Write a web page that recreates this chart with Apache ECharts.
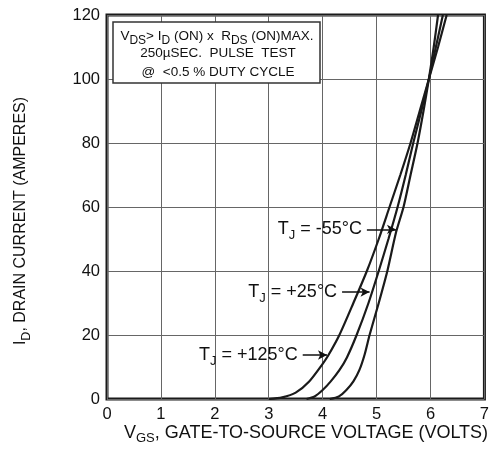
<!DOCTYPE html>
<html>
<head>
<meta charset="utf-8">
<script src="https://cdn.jsdelivr.net/npm/echarts@6/dist/echarts.min.js"></script>
<style>html,body{margin:0;padding:0;background:#fff}#c{width:492px;height:449px}</style>
</head>
<body>
<div id="c"></div>
<script>
// Data (V_GS volts, I_D amperes)
const curve125 = [[3.0,0],[3.25,0.5],[3.5,2],[3.75,5.5],[4.0,11],[4.1,13.5],[4.31,20],[4.57,30],[4.82,40],[5.04,50],[5.24,60],[5.44,70],[5.63,80],[5.8,90],[5.97,100],[6.14,110],[6.30,120]];
const curve25 = [[3.7,0],[3.85,0.8],[4.0,2.8],[4.15,5.5],[4.31,9],[4.45,13],[4.63,20],[4.85,30],[5.04,40],[5.22,50],[5.39,60],[5.54,70],[5.68,80],[5.83,90],[5.97,100],[6.1,110],[6.23,120]];
const curveN55 = [[4.13,0],[4.3,0.8],[4.44,2.8],[4.57,5.5],[4.68,9],[4.78,14],[4.87,20],[5.04,30],[5.2,40],[5.36,52],[5.5,60],[5.63,70],[5.76,80],[5.87,90],[5.97,100],[6.06,110],[6.14,120]];
// Arrow annotations: [startV, endV, I]
const arrowN55 = [4.82, 5.36, 53];
const arrow25 = [4.36, 4.87, 33.4];
const arrow125 = [3.63, 4.08, 13.75];
const labelN55 = '-55°C', label25 = '+25°C', label125 = '+125°C';
const xTicks = {min:0, max:7, interval:1};
const yTicks = {min:0, max:120, interval:20};

const FONT = 'Liberation Sans, Arial, Helvetica, sans-serif';
const chart = echarts.init(document.getElementById('c'), null, {renderer:'canvas'});

function arrowMark(a, txt){
  return {
    silent:true, animation:false,
    symbol:['none','arrow'], symbolSize:[7,9],
    lineStyle:{color:'#111', width:1.5, type:'solid'},
    label:{show:true, position:'start', distance:5,
      formatter:'{m|T}{s|J}{m| = '+txt+'}',
      rich:{
        m:{fontFamily:FONT, fontSize:18, color:'#111', lineHeight:26, verticalAlign:'middle'},
        s:{fontFamily:FONT, fontSize:13, color:'#111', lineHeight:13, verticalAlign:'bottom'}
      }},
    emphasis:{disabled:true},
    data:[[{coord:[a[0],a[2]]},{coord:[a[1],a[2]]}]]
  };
}
function curve(name, data, arr, txt){
  return {name, type:'line', data, showSymbol:false, smooth:0.25,
    lineStyle:{color:'#1a1a1a', width:2.2}, silent:true, animation:false,
    markLine: arrowMark(arr, txt)};
}

chart.setOption({
  animation:false,
  grid:{left:107, right:2, top:15, bottom:50, show:true, borderColor:'#1a1a1a', borderWidth:3, backgroundColor:'transparent'},
  xAxis:{type:'value', min:xTicks.min, max:xTicks.max, interval:xTicks.interval,
    axisLine:{show:false}, axisTick:{show:false},
    axisLabel:{fontFamily:FONT, fontSize:16.5, color:'#111', margin:7},
    splitLine:{show:true, lineStyle:{color:'#666', width:1}}},
  yAxis:{type:'value', min:yTicks.min, max:yTicks.max, interval:yTicks.interval,
    axisLine:{show:false}, axisTick:{show:false},
    axisLabel:{fontFamily:FONT, fontSize:16.5, color:'#111', margin:7},
    splitLine:{show:true, lineStyle:{color:'#666', width:1}}},
  series:[
    curve('-55', curveN55, arrowN55, labelN55),
    curve('+25', curve25, arrow25, label25),
    curve('+125', curve125, arrow125, label125)
  ],
  graphic:[
    {type:'rect', z:100, shape:{x:113, y:22, width:207, height:61},
      style:{fill:'#fff', stroke:'#333', lineWidth:1.5}},
    {type:'text', z:101, x:217, y:36, style:{
      text:'{m|V}{s|DS}{m|> I}{s|D}{m| (ON) x  R}{s|DS}{m| (ON)MAX.}',
      align:'center', verticalAlign:'middle',
      rich:{m:{fontFamily:FONT, fontSize:13.5, fill:'#111', lineHeight:22, verticalAlign:'middle'},
            s:{fontFamily:FONT, fontSize:12, fill:'#111', lineHeight:9, verticalAlign:'bottom'}}}},
    {type:'text', z:101, x:218, y:53, style:{text:'250µSEC.  PULSE  TEST', align:'center', verticalAlign:'middle',
      font:'13.5px '+FONT, fill:'#111'}},
    {type:'text', z:101, x:218, y:72, style:{text:'@  <0.5 % DUTY CYCLE', align:'center', verticalAlign:'middle',
      font:'13.5px '+FONT, fill:'#111'}},
    {type:'text', z:101, x:306, y:433, style:{
      text:'{m|V}{s|GS}{m|, GATE-TO-SOURCE VOLTAGE (VOLTS)}',
      align:'center', verticalAlign:'middle',
      rich:{m:{fontFamily:FONT, fontSize:18, fill:'#111', lineHeight:24, verticalAlign:'middle'},
            s:{fontFamily:FONT, fontSize:13, fill:'#111', lineHeight:12, verticalAlign:'bottom'}}}},
    {type:'text', z:101, x:21, y:221, rotation:Math.PI/2, style:{
      text:'{m|I}{s|D}{m|, DRAIN CURRENT (AMPERES)}',
      align:'center', verticalAlign:'middle',
      rich:{m:{fontFamily:FONT, fontSize:16, fill:'#111', lineHeight:24, verticalAlign:'middle'},
            s:{fontFamily:FONT, fontSize:12.5, fill:'#111', lineHeight:12, verticalAlign:'bottom'}}}}
  ]
});
</script>
</body>
</html>
